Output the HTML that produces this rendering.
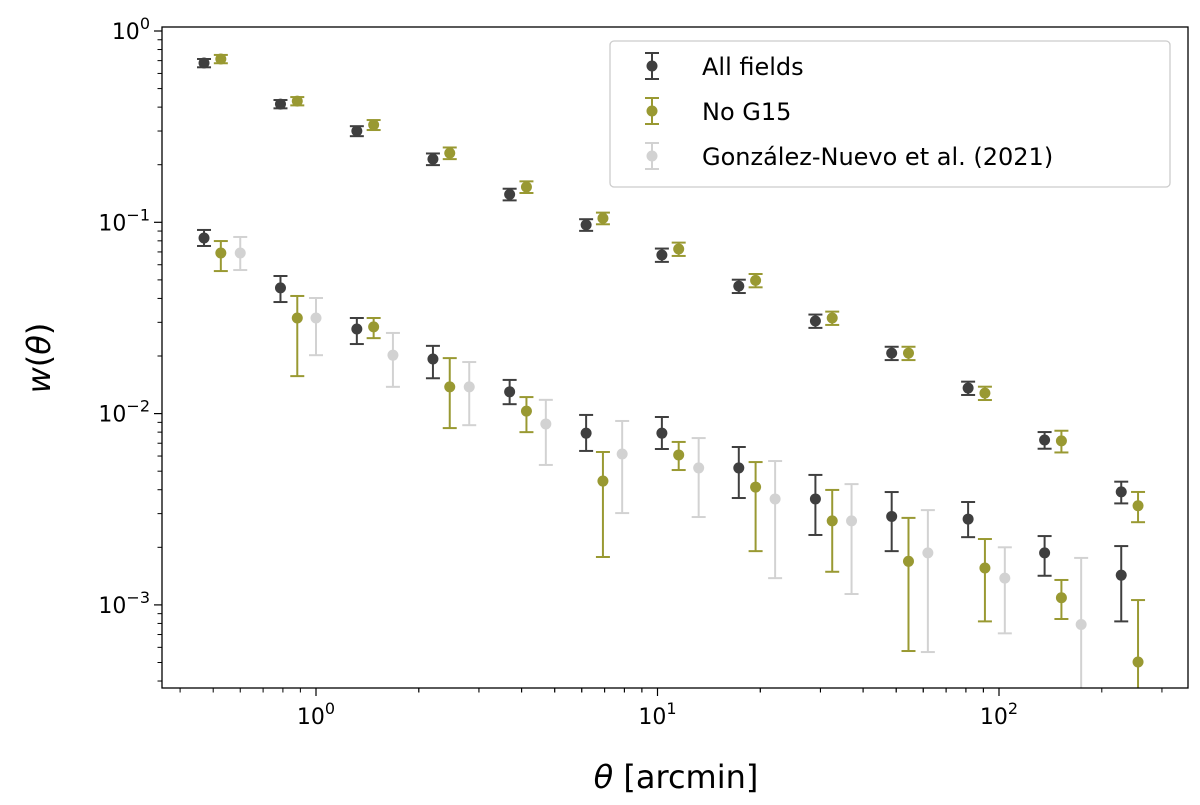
<!DOCTYPE html>
<html><head><meta charset="utf-8"><style>
html,body{margin:0;background:#fff;width:1200px;height:805px;overflow:hidden}
svg{display:block;font-family:"DejaVu Sans","Liberation Sans",sans-serif}
</style></head><body>
<svg id="chart" width="1200" height="805" viewBox="0 0 1200 805">
<text transform="translate(50,358) rotate(-90)" text-anchor="middle" font-size="32"><tspan font-style="italic">w</tspan>(<tspan font-style="italic">θ</tspan>)</text>
<text x="676" y="788" text-anchor="middle" font-size="32"><tspan font-style="italic">θ</tspan> [arcmin]</text>
</svg>
<script>
// ---- data ----
const thetaBins=[0.47,0.787,1.317,2.20,3.69,6.18,10.3,17.3,29.0,48.5,81.2,136,228];
const allUpper=[0.68,0.415,0.30,0.214,0.14,0.097,0.0675,0.0464,0.0305,0.0207,0.0136,0.00728,0.0039];
const allUpperErr=[0.05,0.05,0.06,0.07,0.07,0.07,0.08,0.08,0.08,0.08,0.08,0.10,0.13];
const noG15Upper=[0.714,0.43,0.323,0.23,0.153,0.105,0.0725,0.0497,0.0316,0.0207,0.0128,0.0072,0.0033];
const noG15UpperErr=[0.05,0.05,0.06,0.07,0.07,0.07,0.08,0.08,0.08,0.08,0.08,0.13,0.18];
const allLower=[0.0828,0.0454,0.0277,0.0193,0.013,0.0079,0.0079,0.0052,0.00358,0.0029,0.00281,0.00187,0.00143];
const allLowerLo=[0.0752,0.0383,0.0231,0.0153,0.0112,0.00638,0.00653,0.00362,0.00232,0.00191,0.00226,0.00142,0.00082];
const allLowerHi=[0.0912,0.0524,0.0316,0.0226,0.0150,0.00984,0.0096,0.00669,0.00478,0.00389,0.00345,0.00229,0.00203];
const noG15Lower=[0.0691,0.0316,0.0284,0.0138,0.0103,0.00444,0.00608,0.00413,0.00275,0.00169,0.00156,0.00109,0.000503];
const noG15LowerLo=[0.0556,0.0157,0.0248,0.0084,0.0080,0.00178,0.00507,0.00191,0.00149,0.000574,0.00082,0.000844,0.000318];
const noG15LowerHi=[0.0798,0.0412,0.0316,0.0195,0.0122,0.0063,0.00711,0.00558,0.00399,0.00285,0.00221,0.00135,0.00106];
const gnThetaBins=[0.6,1.0,1.68,2.81,4.71,7.88,13.2,22.1,37.0,61.9,104,174];
const gnVals=[0.0691,0.0316,0.0202,0.0138,0.00883,0.00615,0.0052,0.00358,0.00275,0.00187,0.00138,0.00079];
const gnLo=[0.0563,0.0202,0.0138,0.0087,0.00539,0.00302,0.00288,0.00138,0.00114,0.000567,0.00071,0.00032];
const gnHi=[0.0838,0.0402,0.0264,0.0186,0.0118,0.00915,0.00745,0.00565,0.00428,0.00313,0.00200,0.00176];
const xTicks=[0,1,2];
const yTicks=[0,-1,-2,-3];
// ---- axes ----
const L=162,R=1188,T=27,B=688;
const X=v=>316+Math.log10(v)*341.5;
const Y=v=>31-Math.log10(v)*191.3;
const NS="http://www.w3.org/2000/svg";
const svg=document.getElementById('chart');
function mk(tag,attrs,parent){const e=document.createElementNS(NS,tag);for(const k in attrs)e.setAttribute(k,attrs[k]);(parent||svg).appendChild(e);return e;}
const clip=mk('clipPath',{id:'pc'});mk('rect',{x:L,y:T,width:R-L,height:B-T},clip);
const plot=mk('g',{'clip-path':'url(#pc)'});


function drawPoint(px,v,lo,hi,col,op,name,parent){
  const g=mk('g',{opacity:op},parent||plot);
  
  
  mk('line',{x1:px,x2:px,y1:lo,y2:hi,stroke:col,'stroke-width':2},g);
  mk('line',{x1:px-7,x2:px+7,y1:lo,y2:lo,stroke:col,'stroke-width':2},g);
  mk('line',{x1:px-7,x2:px+7,y1:hi,y2:hi,stroke:col,'stroke-width':2},g);
  mk('circle',{cx:px,cy:v,r:5.5,fill:col},g);
}
const K='#000',O='#808000',G='#c8c8c8';
gnThetaBins.forEach((t,i)=>drawPoint(X(t),Y(gnVals[i]),Y(gnLo[i]),Y(gnHi[i]),G,0.8,'gn2021-point'));
thetaBins.forEach((t,i)=>{
  drawPoint(X(t),Y(allUpper[i]),Y(allUpper[i]*(1-allUpperErr[i])),Y(allUpper[i]*(1+allUpperErr[i])),K,0.75,'all-fields-upper-point');
  drawPoint(X(t*1.12),Y(noG15Upper[i]),Y(noG15Upper[i]*(1-noG15UpperErr[i])),Y(noG15Upper[i]*(1+noG15UpperErr[i])),O,0.8,'no-g15-upper-point');
  drawPoint(X(t),Y(allLower[i]),Y(allLowerLo[i]),Y(allLowerHi[i]),K,0.75,'all-fields-lower-point');
  drawPoint(X(t*1.12),Y(noG15Lower[i]),Y(noG15LowerLo[i]),Y(noG15LowerHi[i]),O,0.8,'no-g15-lower-point');
});
const fr=mk('rect',{x:L,y:T,width:R-L,height:B-T,fill:'none',stroke:'#000','stroke-width':1.3});


xTicks.forEach(p=>{
  const x=X(Math.pow(10,p));
  mk('line',{x1:x,x2:x,y1:B,y2:B+8,stroke:'#000','stroke-width':1.2});
  const t=mk('text',{x:x,y:B+36,'text-anchor':'middle','font-size':22});
  
  
  t.innerHTML='10<tspan dy="-10" font-size="16">'+p+'</tspan>';
  for(let m=2;m<10;m++){for(const d of [p-1,p]){const xx=X(m*Math.pow(10,d));if(xx>L&&xx<R)mk('line',{x1:xx,x2:xx,y1:B,y2:B+4.5,stroke:'#000','stroke-width':1});}}
});
yTicks.forEach(p=>{
  const y=Y(Math.pow(10,p));
  mk('line',{x1:L-8,x2:L,y1:y,y2:y,stroke:'#000','stroke-width':1.2});
  const t=mk('text',{x:L-12,y:y+8,'text-anchor':'end','font-size':22});
  
  
  t.innerHTML='10<tspan dy="-10" font-size="16">'+(p<0?'\u2212'+(-p):p)+'</tspan>';
  for(let m=2;m<10;m++){const yy=Y(m*Math.pow(10,p-1));if(yy>T&&yy<B)mk('line',{x1:L-4.5,x2:L,y1:yy,y2:yy,stroke:'#000','stroke-width':1});}
});
// legend
const lg=mk('g',{});


mk('rect',{x:610,y:41,width:560,height:146,rx:4,fill:'#fff','fill-opacity':0.8,stroke:'#ccc','stroke-width':1.3},lg);
const legLabels=['All fields','No G15','González-Nuevo et al. (2021)'];
const legCols=[K,O,G];
const legOps=[0.75,0.8,0.8];
legLabels.forEach((s,i)=>{
  const cy=66+i*45;
  drawPoint(652,cy,cy+13,cy-13,legCols[i],legOps[i],'legend-marker',lg);
  const t=mk('text',{x:702,y:cy+9,'font-size':24},lg);
  
  
  t.textContent=s;
});
</script>
</body></html>
